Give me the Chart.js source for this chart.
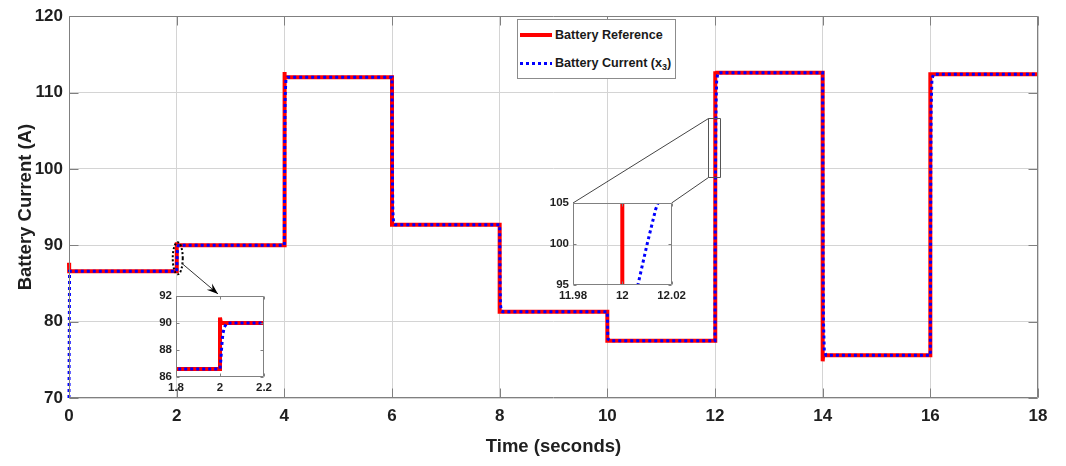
<!DOCTYPE html>
<html>
<head>
<meta charset="utf-8">
<script src="https://cdn.jsdelivr.net/npm/chart.js@4.4.0/dist/chart.umd.min.js"></script>
<style>
html,body{margin:0;padding:0;background:#fff;}
#wrap{position:relative;width:1066px;height:466px;overflow:hidden;}
#wrap canvas{position:absolute;}
#legend{position:absolute;left:517px;top:19px;width:157px;height:58px;border:1px solid #8c8c8c;background:#fff;
  font:bold 12.6px "Liberation Sans",Arial,sans-serif;color:#1a1a1a;}
#legend .row{position:absolute;left:0;height:20px;width:157px;}
#legend .sw{position:absolute;left:2px;width:32px;}
#legend .red{top:8px;height:4px;background:#ff0000;}
#legend .blue{top:9px;height:3px;background:repeating-linear-gradient(to right,#0000ff 0 3px,transparent 3px 6px);}
#legend .lbl{position:absolute;left:37px;top:2px;white-space:nowrap;line-height:16px;}
#legend sub{font-size:9px;vertical-align:-3px;line-height:0;}
</style>
</head>
<body>
<div id="wrap">
  <canvas id="main" width="1066" height="466" style="left:0;top:0;"></canvas>
  <canvas id="inset1" width="150" height="115" style="left:130px;top:285px;"></canvas>
  <canvas id="inset2" width="170" height="115" style="left:520px;top:190px;"></canvas>
  <div id="legend">
    <div class="row" style="top:5px"><span class="sw red"></span><span class="lbl">Battery Reference</span></div>
    <div class="row" style="top:33px"><span class="sw blue"></span><span class="lbl">Battery Current (x<sub>3</sub>)</span></div>
  </div>
</div>
<script>
// ---------- data ----------
const refTime    = [0, 0.003, 2, 2, 2.004, 4, 4, 4.01, 6, 6, 8, 8, 10, 10, 12, 12, 12.01, 14, 14, 14.01, 16, 16, 18];
const refCurrent = [87.7, 86.6, 86.6, 90.4, 90.0, 90.0, 112.7, 112.0, 112.0, 92.7, 92.7, 81.3, 81.3, 77.5, 77.5, 112.8, 112.6, 112.6, 74.8, 75.6, 75.6, 112.4, 112.4];

const measTime = [0, 0.01, 2, 2.004, 2.008, 2.013, 2.02, 2.03, 2.05,
  4, 4.004, 4.008, 4.015, 4.03, 4.06,
  6, 6.004, 6.008, 6.015, 6.03, 6.06,
  8, 8.004, 8.008, 8.015, 8.03, 8.06,
  10, 10.004, 10.008, 10.015, 10.06,
  12, 12.002, 12.004, 12.0064, 12.0100, 12.0135, 12.0152, 12.02, 12.03, 12.05, 12.1,
  14, 14.004, 14.008, 14.015, 14.03, 14.06,
  16, 16.004, 16.008, 16.015, 16.03, 16.06, 18];
const measCurrent = [70, 86.6, 86.6, 87.3, 88.3, 89.2, 89.7, 89.95, 90.0,
  90.0, 97, 104, 109.5, 111.8, 112.0,
  112.0, 105, 99, 94.5, 92.9, 92.7,
  92.7, 88, 84.5, 82.2, 81.4, 81.3,
  81.3, 79.5, 78.3, 77.7, 77.5,
  77.5, 85, 90.5, 95.1, 99.9, 104.2, 105.6, 108.5, 111.4, 112.5, 112.6,
  112.6, 100, 88, 80, 76.2, 75.6,
  75.6, 88, 100, 108, 111.8, 112.4, 112.4];

const mainXTicks = [0, 2, 4, 6, 8, 10, 12, 14, 16, 18];
const mainYTicks = [70, 80, 90, 100, 110, 120];
const inset1XTicks = [1.8, 2, 2.2];
const inset1YTicks = [86, 88, 90, 92];
const inset2XTicks = [11.98, 12, 12.02];
const inset2YTicks = [95, 100, 105];

const seriesNames = ['Battery Reference', 'Battery Current (x3)'];
const xTitle = 'Time (seconds)';
const yTitle = 'Battery Current (A)';

// ---------- helpers ----------
const FONT = '"Liberation Sans", Arial, sans-serif';
const TXT = '#1f1f1f';
const AX = '#808080';
const pts = (t, v) => t.map((x, i) => ({x, y: v[i]}));

function datasets(clip) {
  return [
    {label: seriesNames[1], data: pts(measTime, measCurrent), borderColor: '#0000ff', borderWidth: 3,
     borderDash: [3, 3], pointRadius: 0, tension: 0, order: 0, fill: false, clip: clip},
    {label: seriesNames[0], data: pts(refTime, refCurrent), borderColor: '#ff0000', borderWidth: 4,
     pointRadius: 0, tension: 0, order: 1, fill: false, clip: clip}
  ];
}

const boxPlugin = {
  id: 'box',
  afterDatasetsDraw(chart, args, opts) {
    const {ctx, chartArea: a, scales} = chart;
    const tl = opts.tick || 0;
    ctx.save();
    ctx.strokeStyle = AX;
    ctx.lineWidth = 1;
    const L = Math.round(a.left) + 0.5, R = Math.round(a.right) - 0.5;
    const T = Math.round(a.top) + 0.5, B = Math.round(a.bottom) - 0.5;
    ctx.beginPath();
    ctx.rect(L, T, R - L, B - T);
    if (tl) {
      scales.x.ticks.forEach(t => {
        const px = Math.round(scales.x.getPixelForValue(t.value)) + 0.5;
        ctx.moveTo(px, B); ctx.lineTo(px, B - tl);
        ctx.moveTo(px, T); ctx.lineTo(px, T + tl);
      });
      scales.y.ticks.forEach(t => {
        const py = Math.round(scales.y.getPixelForValue(t.value)) + 0.5;
        ctx.moveTo(L, py); ctx.lineTo(L + tl, py);
        ctx.moveTo(R, py); ctx.lineTo(R - tl, py);
      });
    }
    ctx.stroke();
    ctx.restore();
  }
};

function fixedTicks(list) {
  return function(scale) { scale.ticks = list.map(v => ({value: v})); };
}

function baseOptions(cfg) {
  return {
    responsive: false, animation: false, devicePixelRatio: 1,
    layout: {padding: cfg.padding},
    plugins: {legend: {display: false}, tooltip: {enabled: false}, box: {tick: cfg.tick}},
    scales: {
      x: {
        type: 'linear', min: cfg.xmin, max: cfg.xmax,
        afterBuildTicks: fixedTicks(cfg.xticks),
        afterFit: s => { s.height = cfg.xh; },
        border: {display: false},
        grid: {display: cfg.grid, color: '#d4d4d4', lineWidth: 1, drawTicks: false},
        ticks: {font: {family: FONT, size: cfg.fs, weight: 'bold'}, color: TXT, padding: cfg.xpad,
                maxRotation: 0, autoSkip: false, callback: v => String(v)},
        title: cfg.xtitle ? {display: true, text: cfg.xtitle, color: TXT,
                font: {family: FONT, size: 18.5, weight: 'bold'}, padding: {top: 0, bottom: 8}} : {display: false}
      },
      y: {
        type: 'linear', min: cfg.ymin, max: cfg.ymax,
        afterBuildTicks: fixedTicks(cfg.yticks),
        afterFit: s => { s.width = cfg.yw; },
        border: {display: false},
        grid: {display: cfg.grid, color: '#d4d4d4', lineWidth: 1, drawTicks: false},
        ticks: {font: {family: FONT, size: cfg.fs, weight: 'bold'}, color: TXT, padding: cfg.ypad,
                autoSkip: false, callback: v => String(v)},
        title: cfg.ytitle ? {display: true, text: cfg.ytitle, color: TXT,
                font: {family: FONT, size: 18.5, weight: 'bold'}, padding: {top: 15, bottom: 0}} : {display: false}
      }
    }
  };
}

// ---------- insets ----------
const inset1 = new Chart(document.getElementById('inset1'), {
  type: 'line', data: {datasets: datasets(0)}, plugins: [boxPlugin],
  options: baseOptions({padding: {left: 0, top: 10, right: 16, bottom: 0}, xmin: 1.8, xmax: 2.2, ymin: 86, ymax: 92,
    xticks: inset1XTicks, yticks: inset1YTicks, xh: 23, yw: 46, fs: 11.5, xpad: 4, ypad: 4, grid: false, tick: 3})
});
const inset2 = new Chart(document.getElementById('inset2'), {
  type: 'line', data: {datasets: datasets(0)}, plugins: [boxPlugin],
  options: baseOptions({padding: {left: 0, top: 13, right: 18, bottom: 0}, xmin: 11.98, xmax: 12.02, ymin: 95, ymax: 105,
    xticks: inset2XTicks, yticks: inset2YTicks, xh: 20, yw: 53, fs: 11.5, xpad: 4, ypad: 4, grid: false, tick: 3})
});

// ---------- annotations on main chart ----------
const annot = {
  id: 'annot',
  afterDatasetsDraw(chart) {
    const {ctx, scales: {x, y}} = chart;
    ctx.save();
    // dotted ellipse around the step at t = 2
    const cx = x.getPixelForValue(2.02), cy = y.getPixelForValue(88.3);
    ctx.strokeStyle = '#000'; ctx.lineWidth = 2; ctx.setLineDash([2, 2]);
    ctx.beginPath(); ctx.ellipse(cx, cy, 5, 16, 0, 0, Math.PI * 2); ctx.stroke();
    ctx.setLineDash([]);
    // arrow to inset 1
    const a1 = inset1.chartArea;
    const tipX = 130 + inset1.scales.x.getPixelForValue(2.0) - 2, tipY = 285 + a1.top - 2;
    const sx = cx + 4, sy = cy + 5;
    ctx.lineWidth = 1; ctx.strokeStyle = '#333';
    ctx.beginPath(); ctx.moveTo(sx, sy); ctx.lineTo(tipX, tipY); ctx.stroke();
    const ang = Math.atan2(tipY - sy, tipX - sx), hl = 12, hw = 0.35;
    ctx.fillStyle = '#000';
    ctx.beginPath(); ctx.moveTo(tipX, tipY);
    ctx.lineTo(tipX - hl * Math.cos(ang - hw), tipY - hl * Math.sin(ang - hw));
    ctx.lineTo(tipX - hl * 0.6 * Math.cos(ang), tipY - hl * 0.6 * Math.sin(ang));
    ctx.lineTo(tipX - hl * Math.cos(ang + hw), tipY - hl * Math.sin(ang + hw));
    ctx.closePath(); ctx.fill();
    // zoom rectangle at t = 12 and connectors to inset 2
    const rl = Math.round(x.getPixelForValue(11.875)) + 0.5, rr = Math.round(x.getPixelForValue(12.095)) + 0.5;
    const rt = Math.round(y.getPixelForValue(106.7)) + 0.5, rb = Math.round(y.getPixelForValue(98.9)) + 0.5;
    ctx.strokeStyle = '#555'; ctx.lineWidth = 1;
    ctx.beginPath(); ctx.rect(rl, rt, rr - rl, rb - rt); ctx.stroke();
    const a2 = inset2.chartArea;
    ctx.strokeStyle = '#444';
    ctx.beginPath();
    ctx.moveTo(rl, rt); ctx.lineTo(520 + a2.left, 190 + a2.top);
    ctx.moveTo(rl, rb); ctx.lineTo(520 + a2.right, 190 + a2.top);
    ctx.stroke();
    ctx.restore();
  }
};

new Chart(document.getElementById('main'), {
  type: 'line', data: {datasets: datasets({left: 3, right: 0, top: 0, bottom: 0})}, plugins: [boxPlugin, annot],
  options: baseOptions({padding: {left: 0, top: 15, right: 28, bottom: 0}, xmin: 0, xmax: 18, ymin: 70, ymax: 120,
    xticks: mainXTicks, yticks: mainYTicks, xh: 68, yw: 69, fs: 17, xpad: 8, ypad: 6, grid: true, tick: 9,
    xtitle: xTitle, ytitle: yTitle})
});
</script>
</body>
</html>
